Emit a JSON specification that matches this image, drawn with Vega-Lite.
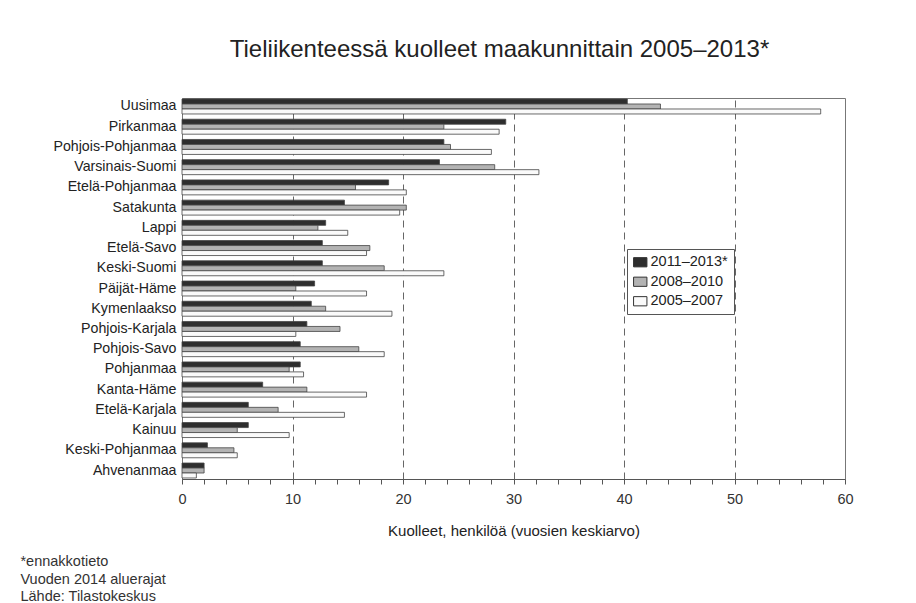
{
  "$schema": "https://vega.github.io/schema/vega-lite/v6.json",
  "padding": {"left": 20, "top": 37, "right": 5, "bottom": 5},
  "background": "white",
  "config": {
    "font": "Liberation Sans",
    "view": {"stroke": "#777", "strokeWidth": 1}
  },
  "title": {
    "text": ["*ennakkotieto", "Vuoden 2014 aluerajat", "Lähde: Tilastokeskus"],
    "orient": "bottom",
    "anchor": "start",
    "frame": "bounds",
    "fontSize": 14.5,
    "fontWeight": "normal",
    "color": "#333",
    "lineHeight": 17.5,
    "offset": 16,
    "dx": -32
  },
  "vconcat": [
    {
      "width": 663,
      "height": 381,
      "title": {
        "text": "Tieliikenteessä kuolleet maakunnittain 2005–2013*",
        "fontSize": 24,
        "fontWeight": "normal",
        "color": "#222",
        "anchor": "middle",
        "frame": "group",
        "dx": -14,
        "offset": 36
      },
      "data": {
        "values": [
          {"alue": "Uusimaa", "jakso": "2011–2013*", "kuolleet": 40.3},
          {"alue": "Uusimaa", "jakso": "2008–2010", "kuolleet": 43.3},
          {"alue": "Uusimaa", "jakso": "2005–2007", "kuolleet": 57.8},
          {"alue": "Pirkanmaa", "jakso": "2011–2013*", "kuolleet": 29.3},
          {"alue": "Pirkanmaa", "jakso": "2008–2010", "kuolleet": 23.7},
          {"alue": "Pirkanmaa", "jakso": "2005–2007", "kuolleet": 28.7},
          {"alue": "Pohjois-Pohjanmaa", "jakso": "2011–2013*", "kuolleet": 23.7},
          {"alue": "Pohjois-Pohjanmaa", "jakso": "2008–2010", "kuolleet": 24.3},
          {"alue": "Pohjois-Pohjanmaa", "jakso": "2005–2007", "kuolleet": 28.0},
          {"alue": "Varsinais-Suomi", "jakso": "2011–2013*", "kuolleet": 23.3},
          {"alue": "Varsinais-Suomi", "jakso": "2008–2010", "kuolleet": 28.3},
          {"alue": "Varsinais-Suomi", "jakso": "2005–2007", "kuolleet": 32.3},
          {"alue": "Etelä-Pohjanmaa", "jakso": "2011–2013*", "kuolleet": 18.7},
          {"alue": "Etelä-Pohjanmaa", "jakso": "2008–2010", "kuolleet": 15.7},
          {"alue": "Etelä-Pohjanmaa", "jakso": "2005–2007", "kuolleet": 20.3},
          {"alue": "Satakunta", "jakso": "2011–2013*", "kuolleet": 14.7},
          {"alue": "Satakunta", "jakso": "2008–2010", "kuolleet": 20.3},
          {"alue": "Satakunta", "jakso": "2005–2007", "kuolleet": 19.7},
          {"alue": "Lappi", "jakso": "2011–2013*", "kuolleet": 13.0},
          {"alue": "Lappi", "jakso": "2008–2010", "kuolleet": 12.3},
          {"alue": "Lappi", "jakso": "2005–2007", "kuolleet": 15.0},
          {"alue": "Etelä-Savo", "jakso": "2011–2013*", "kuolleet": 12.7},
          {"alue": "Etelä-Savo", "jakso": "2008–2010", "kuolleet": 17.0},
          {"alue": "Etelä-Savo", "jakso": "2005–2007", "kuolleet": 16.7},
          {"alue": "Keski-Suomi", "jakso": "2011–2013*", "kuolleet": 12.7},
          {"alue": "Keski-Suomi", "jakso": "2008–2010", "kuolleet": 18.3},
          {"alue": "Keski-Suomi", "jakso": "2005–2007", "kuolleet": 23.7},
          {"alue": "Päijät-Häme", "jakso": "2011–2013*", "kuolleet": 12.0},
          {"alue": "Päijät-Häme", "jakso": "2008–2010", "kuolleet": 10.3},
          {"alue": "Päijät-Häme", "jakso": "2005–2007", "kuolleet": 16.7},
          {"alue": "Kymenlaakso", "jakso": "2011–2013*", "kuolleet": 11.7},
          {"alue": "Kymenlaakso", "jakso": "2008–2010", "kuolleet": 13.0},
          {"alue": "Kymenlaakso", "jakso": "2005–2007", "kuolleet": 19.0},
          {"alue": "Pohjois-Karjala", "jakso": "2011–2013*", "kuolleet": 11.3},
          {"alue": "Pohjois-Karjala", "jakso": "2008–2010", "kuolleet": 14.3},
          {"alue": "Pohjois-Karjala", "jakso": "2005–2007", "kuolleet": 10.3},
          {"alue": "Pohjois-Savo", "jakso": "2011–2013*", "kuolleet": 10.7},
          {"alue": "Pohjois-Savo", "jakso": "2008–2010", "kuolleet": 16.0},
          {"alue": "Pohjois-Savo", "jakso": "2005–2007", "kuolleet": 18.3},
          {"alue": "Pohjanmaa", "jakso": "2011–2013*", "kuolleet": 10.7},
          {"alue": "Pohjanmaa", "jakso": "2008–2010", "kuolleet": 9.7},
          {"alue": "Pohjanmaa", "jakso": "2005–2007", "kuolleet": 11.0},
          {"alue": "Kanta-Häme", "jakso": "2011–2013*", "kuolleet": 7.3},
          {"alue": "Kanta-Häme", "jakso": "2008–2010", "kuolleet": 11.3},
          {"alue": "Kanta-Häme", "jakso": "2005–2007", "kuolleet": 16.7},
          {"alue": "Etelä-Karjala", "jakso": "2011–2013*", "kuolleet": 6.0},
          {"alue": "Etelä-Karjala", "jakso": "2008–2010", "kuolleet": 8.7},
          {"alue": "Etelä-Karjala", "jakso": "2005–2007", "kuolleet": 14.7},
          {"alue": "Kainuu", "jakso": "2011–2013*", "kuolleet": 6.0},
          {"alue": "Kainuu", "jakso": "2008–2010", "kuolleet": 5.0},
          {"alue": "Kainuu", "jakso": "2005–2007", "kuolleet": 9.7},
          {"alue": "Keski-Pohjanmaa", "jakso": "2011–2013*", "kuolleet": 2.3},
          {"alue": "Keski-Pohjanmaa", "jakso": "2008–2010", "kuolleet": 4.7},
          {"alue": "Keski-Pohjanmaa", "jakso": "2005–2007", "kuolleet": 5.0},
          {"alue": "Ahvenanmaa", "jakso": "2011–2013*", "kuolleet": 2.0},
          {"alue": "Ahvenanmaa", "jakso": "2008–2010", "kuolleet": 2.0},
          {"alue": "Ahvenanmaa", "jakso": "2005–2007", "kuolleet": 1.3}
        ]
      },
      "mark": {"type": "bar", "stroke": "#444", "strokeWidth": 0.8},
      "encoding": {
        "y": {
          "field": "alue",
          "type": "nominal",
          "sort": null,
          "scale": {"paddingInner": 0.26, "paddingOuter": 0.05},
          "axis": {
            "title": null,
            "ticks": false,
            "domain": false,
            "labelFontSize": 14.2,
            "labelColor": "#222",
            "labelPadding": 6
          }
        },
        "yOffset": {
          "field": "jakso",
          "type": "nominal",
          "sort": ["2011–2013*", "2008–2010", "2005–2007"]
        },
        "x": {
          "field": "kuolleet",
          "type": "quantitative",
          "scale": {"domain": [0, 60], "nice": false},
          "axis": {
            "title": "Kuolleet, henkilöä (vuosien keskiarvo)",
            "titleFontSize": 15,
            "titleFontWeight": "normal",
            "titleColor": "#222",
            "titlePadding": 18,
            "values": [0,2,4,6,8,10,12,14,16,18,20,22,24,26,28,30,32,34,36,38,40,42,44,46,48,50,52,54,56,58,60],
            "labelExpr": "datum.value % 10 === 0 ? datum.label : ''",
            "labelFontSize": 14.5,
            "labelColor": "#333",
            "labelPadding": 8,
            "labelFlush": false,
            "tickSize": 5,
            "tickColor": "#555",
            "domainColor": "#555",
            "grid": true,
            "gridColor": "#666",
            "gridDash": [7, 5],
            "gridOpacity": {"condition": {"test": "datum.value % 10 === 0 && datum.value > 0 && datum.value < 60", "value": 1}, "value": 0}
          }
        },
        "color": {
          "field": "jakso",
          "type": "nominal",
          "sort": ["2011–2013*", "2008–2010", "2005–2007"],
          "scale": {
            "domain": ["2011–2013*", "2008–2010", "2005–2007"],
            "range": ["#2e2e2e", "#b3b3b3", "#fafafa"]
          },
          "legend": {
            "title": null,
            "orient": "none",
            "legendX": 445,
            "legendY": 151,
            "symbolType": "M-1.45,-1H1.45V1H-1.45Z",
            "symbolSize": 85,
            "symbolStrokeColor": "#333",
            "symbolStrokeWidth": 1,
            "labelFontSize": 14.5,
            "labelColor": "#222",
            "labelOffset": 3,
            "rowPadding": 4.5,
            "padding": 6,
            "strokeColor": "#555",
            "fillColor": "white"
          }
        }
      }
    }
  ]
}
